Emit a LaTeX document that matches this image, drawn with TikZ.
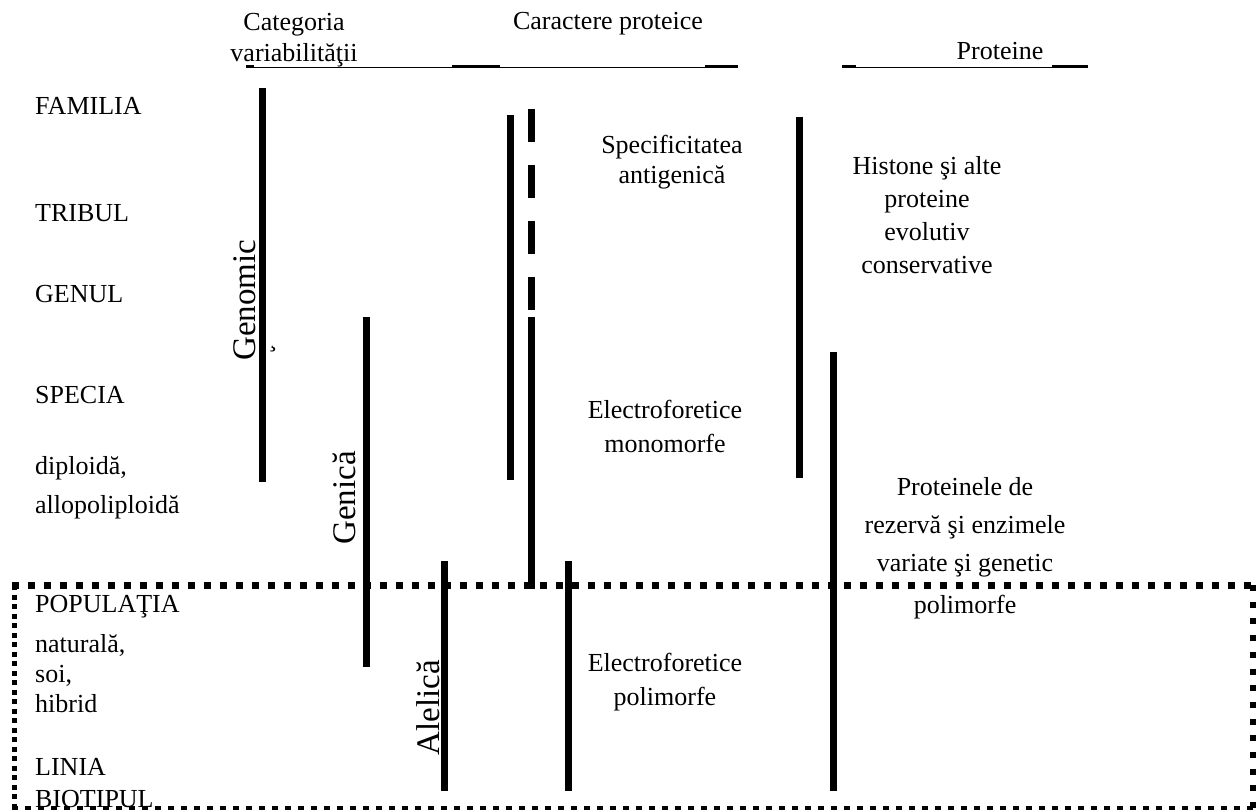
\documentclass[tikz,border=0pt]{standalone}
\usepackage{fontspec}
\setmainfont{Liberation Serif}
\usetikzlibrary{positioning, calc}

\begin{document}
\begin{tikzpicture}[x=1pt,y=-1pt,draw=black!100]
	\def \rowfam{114}
	\def \rowtrib{221}
	\def \rowgen{302}
	\def \rowspec{403}
	\def \rowallo{513}
	\def \rowpop{612}
	\def \rowhib{712}
	\def \rowbio{807}
	\def \boxtop{585}
	\def \boxbot{808}
	\tikzstyle{lvl-node}=[anchor=base west,inner sep=0pt,align=left,font=\fontsize{26}{30}\selectfont]
	\tikzstyle{hd-node}=[anchor=base,inner sep=0pt,align=center,font=\fontsize{26}{31}\selectfont]
	\tikzstyle{cat-node}=[rotate=90,inner sep=0pt,font=\fontsize{33}{36}\selectfont]
	\tikzstyle{pr-node}=[anchor=base,inner sep=0pt,align=center,font=\fontsize{26}{33}\selectfont]
	\tikzstyle{bar}=[line width=7pt]
	\tikzstyle{dbar}=[line width=7pt,dash pattern=on 33pt off 23pt]
	\useasboundingbox (0,0) rectangle (1257,811);

	% header
	\node[hd-node] (hd0) at (294,61) {Categoria\\variabilităţii};
	\node[hd-node] (hd1) at (608,29) {Caractere proteice};
	\node[hd-node] (hd2) at (1000,59) {Proteine};
	\draw[line width=1pt] (246,67) -- (738,67) (842,67) -- (1088,67);
	\draw[line width=3pt] (246,66) -- (254,66) (452,66) -- (500,66) (705,66) -- (738,66)
		(842,66) -- (856,66) (1052,66) -- (1088,66);

	% taxonomic levels
	\node[lvl-node] (lv0) at (35,\rowfam) {FAMILIA};
	\node[lvl-node] (lv1) at (35,\rowtrib) {TRIBUL};
	\node[lvl-node] (lv2) at (35,\rowgen) {GENUL};
	\node[lvl-node] (lv3) at (35,\rowspec) {SPECIA};
	\node[lvl-node,font=\fontsize{26}{39}\selectfont] (lv4) at (35,\rowallo) {diploidă,\\allopoliploidă};
	\node[lvl-node] (lv5) at (35,\rowpop) {POPULAŢIA};
	\node[lvl-node] (lv6) at (35,\rowhib) {naturală,\\soi,\\hibrid};
	\node[lvl-node,font=\fontsize{26}{32}\selectfont] (lv7) at (35,\rowbio) {LINIA\\BIOTIPUL};

	% categories of variability
	\node[cat-node] (cv0) at (245,300) {Genomic};
	\node[inner sep=0pt,font=\fontsize{26}{26}\selectfont] (cv0a) at (273,349) {¸};
	\node[cat-node] (cv1) at (344,498) {Genică};
	\node[cat-node] (cv2) at (428,708) {Alelică};

	% protein characters
	\node[pr-node,font=\fontsize{26}{30}\selectfont] (pc0) at (672,183) {Specificitatea\\antigenică};
	\node[pr-node,font=\fontsize{26}{34}\selectfont] (pc1) at (665,452) {Electroforetice\\monomorfe};
	\node[pr-node,font=\fontsize{26}{34}\selectfont] (pc2) at (665,705) {Electroforetice\\polimorfe};

	% proteins
	\node[pr-node] (pr0) at (927,273) {Histone şi alte\\proteine\\evolutiv\\conservative};
	\node[pr-node,font=\fontsize{26}{38}\selectfont] (pr1) at (965,613) {Proteinele de\\rezervă şi enzimele\\variate şi genetic\\[4pt]polimorfe};

	% bar ends
	\coordinate (gm0) at (262,88);  \coordinate (gm1) at (262,482);
	\coordinate (gn0) at (366,317); \coordinate (gn1) at (366,667);
	\coordinate (al0) at (444,561); \coordinate (al1) at (444,791);
	\coordinate (sa0) at (510,115); \coordinate (sa1) at (510,480);
	\coordinate (sd0) at (531,109); \coordinate (sd1) at (531,310);
	\coordinate (em0) at (531,317); \coordinate (em1) at (531,589);
	\coordinate (ep0) at (568,561); \coordinate (ep1) at (568,791);
	\coordinate (hc0) at (799,117); \coordinate (hc1) at (799,478);
	\coordinate (rv0) at (833,352); \coordinate (rv1) at (833,791);

	\path (gm0) edge[bar] (gm1)
		(gn0) edge[bar] (gn1)
		(al0) edge[bar] (al1)
		(sa0) edge[bar] (sa1)
		(sd0) edge[dbar] (sd1)
		(em0) edge[bar] (em1)
		(ep0) edge[bar] (ep1)
		(hc0) edge[bar] (hc1)
		(rv0) edge[bar] (rv1);

	% population box
	\draw[line width=7pt,dash pattern=on 7pt off 9pt] (12,\boxtop) -- (1257,\boxtop);
	\draw[line width=5pt,dash pattern=on 5pt off 4.5pt] (14.5,\boxtop) -- (14.5,\boxbot);
	\draw[line width=6pt,dash pattern=on 6pt off 10.7pt] (1253,\boxtop) -- (1253,\boxbot);
	\draw[line width=4pt,dash pattern=on 6pt off 7pt] (12,\boxbot) -- (1257,\boxbot);
\end{tikzpicture}
\end{document}
